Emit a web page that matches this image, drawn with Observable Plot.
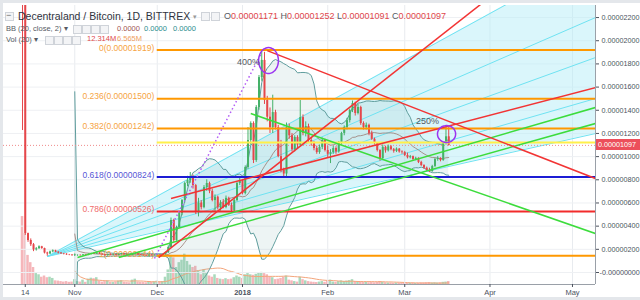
<!DOCTYPE html>
<html><head><meta charset="utf-8">
<script src="https://cdn.jsdelivr.net/npm/d3@7"></script>
<script src="https://cdn.jsdelivr.net/npm/@observablehq/plot@0.6"></script>
<style>
html,body{margin:0;padding:0;background:#fff;}
#wrap{position:relative;width:640px;height:300px;overflow:hidden;background:#e4e7eb;font-family:"Liberation Sans",Arial,sans-serif;}
#panel{position:absolute;left:3px;top:3px;width:637px;height:294px;background:#fff;}
#wrap svg{position:absolute;left:0;top:0;}
.t{position:absolute;white-space:nowrap;line-height:1;}
.ic{position:absolute;width:7px;height:7px;border:1px solid #cfd3d9;background:#f3f4f6;}
</style></head>
<body><div id="wrap"><div id="panel"></div></div>
<script>
// ---------- data (prices in satoshi = 1e-8 BTC) ----------
const START_DATE = "2017-10-13";
const ohlc = [
// Oct 13 - Oct 31
[3500,5000,1225,3000],[3000,3100,320,336],[336,340,260,276],[276,290,225,240],[240,250,180,195],[195,215,185,205],[205,230,200,222],[222,226,200,207],[207,210,160,168],[168,175,140,160],[160,185,155,178],[178,195,170,188],[188,192,170,175],[175,180,160,168],[168,172,155,162],[162,166,152,158],[158,162,148,152],[152,156,145,150],[150,155,140,146],
// Nov
[146,160,138,152],[146,152,140,148],[148,152,142,145],[145,156,143,152],[152,156,144,147],[147,160,145,157],[157,166,152,162],[162,170,155,158],[158,172,156,168],[168,172,155,158],[158,162,148,152],[152,155,140,145],[145,158,143,155],[155,160,148,150],[150,156,146,153],[153,155,144,147],[147,158,145,156],[156,164,152,160],[160,164,150,154],[154,158,146,149],[149,153,142,146],[146,160,145,158],[158,166,154,162],[162,165,150,152],[152,156,145,148],[148,152,142,146],[146,150,140,143],[143,152,141,150],[150,154,142,145],[145,152,143,150],
// Dec
[150,156,144,152],[152,155,145,147],[147,156,145,154],[154,175,150,170],[170,230,165,216],[216,470,210,449],[449,460,260,276],[276,400,270,388],[388,520,380,509],[509,630,490,621],[621,780,600,768],[768,830,740,794],[794,863,770,820],[820,840,720,750],[750,760,500,520],[520,640,480,600],[600,620,540,560],[560,750,550,733],[733,800,700,768],[768,780,680,700],[700,720,610,621],[621,670,520,650],[650,660,540,560],[560,620,530,600],[600,630,550,561],[561,660,550,640],[640,650,570,580],[580,600,510,535],[535,640,525,621],[621,780,610,768],[768,820,750,794],
// Jan
[794,800,670,682],[682,920,670,906],[906,1251,890,1139],[1139,1300,1100,1286],[1286,1300,940,966],[966,1440,950,1424],[1424,1700,1400,1682],[1682,1919,1650,1830],[1830,1900,1450,1484],[1484,1520,1300,1340],[1340,1420,1200,1250],[1250,1530,1200,1380],[1380,1400,1230,1250],[1250,1270,990,1000],[1000,1140,860,880],[880,900,820,850],[850,1290,820,1250],[1250,1280,1150,1180],[1180,1200,1040,1060],[1060,1180,1040,1165],[1165,1180,1070,1100],[1100,1484,1090,1337],[1337,1360,1180,1200],[1200,1300,1170,1260],[1260,1280,1120,1139],[1139,1160,1090,1113],[1113,1130,1050,1070],[1070,1090,1020,1035],[1035,1100,1020,1080],[1080,1160,1060,1139],[1139,1150,1040,1053],
// Feb
[1053,1090,990,1020],[1020,1060,940,1035],[1035,1090,1020,1070],[1070,1085,1020,1040],[1040,1130,1030,1113],[1113,1210,1100,1200],[1200,1265,1180,1251],[1251,1330,1230,1311],[1311,1410,1290,1398],[1398,1480,1380,1458],[1458,1470,1350,1372],[1372,1450,1360,1424],[1424,1435,1270,1286],[1286,1300,1230,1251],[1251,1290,1230,1270],[1270,1280,1180,1200],[1200,1220,1140,1150],[1150,1160,1100,1113],[1113,1120,1040,1053],[1053,1060,960,983],[983,1100,975,1080],[1080,1090,1030,1050],[1050,1100,1040,1085],[1085,1095,1050,1060],[1060,1070,1030,1045],[1045,1075,1035,1065],[1065,1070,1030,1040],[1040,1050,1020,1035],
// Mar 1 - 17
[1035,1045,1000,1010],[1010,1030,980,990],[990,1010,980,1000],[1000,1005,965,975],[975,995,965,985],[985,990,940,950],[950,960,915,923],[923,930,890,900],[900,910,870,880],[880,900,862,871],[871,925,865,915],[915,985,905,975],[975,1000,960,985],[985,990,955,966],[966,1120,960,1113],[1113,1250,1100,1171],[1171,1252,1091,1097]
];
// volume, millions of MANA
const volumeM = [
280,210,120,90,70,45,40,30,35,28,30,25,15,14,12,10,12,9,10,
20,12,10,18,9,22,26,24,28,14,10,12,15,9,8,10,14,16,9,8,7,18,22,10,9,8,7,12,9,11,
14,10,12,30,60,120,110,70,90,100,125,95,80,70,75,55,40,60,45,35,30,40,25,22,20,24,20,22,28,35,30,
25,40,45,40,38,42,48,50,45,40,30,28,20,22,25,30,35,18,15,12,10,30,20,15,12,10,9,8,10,12,9,
14,18,10,9,12,15,12,14,16,20,12,11,10,8,9,7,8,7,8,12,9,7,6,6,5,6,5,5,
5,6,5,5,4,5,6,6,7,8,6,7,6,7,9,10,12.314
];
const yTickValues = [0,200,400,600,800,1000,1200,1400,1600,1800,2000,2200];
const yTickLabels = ["-0.00000000","0.00000200","0.00000400","0.00000600","0.00000800","0.00001000","0.00001200","0.00001400","0.00001600","0.00001800","0.00002000","0.00002200"];
const xTickDates = ["2017-10-14","2017-11-01","2017-12-01","2018-01-01","2018-02-01","2018-03-01","2018-04-01","2018-05-01"];
const xTickLabels = ["14","Nov","Dec","2018","Feb","Mar","Apr","May"];
const fibRatios = ["0","0.236","0.382","0.618","0.786","1"];
const fibPrices = [1919,1500,1242,824,526,144];
const fibStartDate = "2017-12-01";
const yellowLevel = 1122;
const fanOrigin = ["2017-10-22", 138];
const fanEndPrices = [2735, 2200, 1855, 1501, 1199];
const redTrendLines = [["2017-12-01T12:00",129,"2018-03-29",2321],["2017-12-06",638,"2018-05-09T09:00",1596],["2018-01-10",1915,"2018-05-09T09:00",811]];
const greenTrendLines = [["2018-01-04",1372,"2018-05-09T09:00",336],["2017-11-02",129,"2018-05-09T09:00",1424],["2017-11-17",129,"2018-05-09T09:00",1286]];
const measureLine = ["2017-11-30",121,"2018-01-08",1898];
const circleMarks = [["2018-01-10T11:00",1829,3.6,112],["2018-03-16T05:00",1195,3.3,73]];
const notes = [["2018-01-03T04:00",1812,"400%"],["2018-03-09T07:00",1303,"250%"]];
const titleText = "Decentraland / Bitcoin, 1D, BITTREX";
const bbLabel = "BB (20, close, 2)";
const bbValues = ["0.0000","0.0000","0.0000"];
const volLabel = "Vol (20)";
const volValues = ["12.314M","6.565M"];

// ---------- helpers ----------
const parse = s => new Date(s.length === 10 ? s + "T00:00Z" : s + "Z");
const fmt = v => (v / 1e8).toFixed(8);
const RIGHT = "2018-05-09T09:00";
const xDomain = [parse("2017-10-06T02:00"), parse(RIGHT)];
const yDomain = [-103.5, 2304];
const W = 640, H = 300, MT = 5, MR = 45, MB = 16, ML = 3;
const UP = "#45b168", DOWN = "#e5474b";

const t0 = parse(START_DATE);
const bars = ohlc.map((c, i) => ({date: d3.utcDay.offset(t0, i), o: c[0], h: c[1], l: c[2], c: c[3], v: volumeM[i]}));
const bb = [], volMA = [];
for (let i = 19; i < bars.length; i++) {
  const w = bars.slice(i - 19, i + 1);
  const cl = w.map(b => b.c);
  const m = d3.mean(cl);
  const sd = Math.sqrt(d3.mean(cl, x => (x - m) ** 2));
  bb.push({date: bars[i].date, mid: m, up: m + 2 * sd, lo: m - 2 * sd});
  volMA.push({date: bars[i].date, v: d3.mean(w, b => b.v)});
}
const last = bars[bars.length - 1];
const yLab = new Map(yTickValues.map((v, i) => [v, yTickLabels[i]]));
const xLab = new Map(xTickDates.map((d, i) => [+parse(d), xTickLabels[i]]));
const xTicks = xTickDates.map(parse);
const toLink = a => ({x1: parse(a[0]), y1: a[1], x2: parse(a[2]), y2: a[3]});
const fanLinks = fanEndPrices.map(p => toLink([fanOrigin[0], fanOrigin[1], RIGHT, p]));
const fanFill = [{x: parse(fanOrigin[0]), lo: fanOrigin[1], hi: fanOrigin[1]}, {x: parse(RIGHT), lo: fanEndPrices[fanEndPrices.length - 1], hi: fanEndPrices[0]}];
const ellipsePts = circleMarks.flatMap(([d, p, rx, ry], k) => d3.range(0, 41).map(j => {
  const a = 2 * Math.PI * j / 40;
  return {id: k, x: new Date(parse(d).getTime() + rx * 864e5 * Math.cos(a)), y: p + ry * Math.sin(a)};
}));
const fibLineColors = ["#ff9800","#ff9800","#ff9800","#1c1cd4","#f22b2b","#ff9800"];
const fibTextColors = ["#f6a443","#f6a443","#f6a443","#5656d6","#ef6a6a","#f6a443"];
const fibRows = fibPrices.map((p, i) => ({p, stroke: fibLineColors[i], fill: fibTextColors[i], label: `${fibRatios[i]}(${fmt(p)})`}));

const common = {width: W, height: H, marginTop: MT, marginRight: MR, marginBottom: MB, marginLeft: ML,
  x: {type: "utc", domain: xDomain}, color: {type: "identity"}};

// ---------- volume layer ----------
const volPlot = Plot.plot({...common, y: {domain: [0, 1150], axis: null}, x: {type: "utc", domain: xDomain, axis: null},
  style: {background: "transparent", overflow: "visible"},
  marks: [
    Plot.rectY(bars, {x1: d => d3.utcHour.offset(d.date, -11), x2: d => d3.utcHour.offset(d.date, 11), y: "v",
      fill: d => d.c >= d.o ? "#a9d9bc" : "#f5b6ba", clip: true}),
    Plot.line(volMA, {x: "date", y: "v", stroke: "#f4a57b", strokeWidth: 1})
  ]});

// ---------- main layer ----------
const main = Plot.plot({...common, y: {domain: yDomain},
  style: {background: "transparent", overflow: "visible", fontFamily: "Liberation Sans, Arial, sans-serif", fontSize: "7.2px", color: "#4c525e"},
  marks: [
    Plot.gridX(xTicks, {stroke: "#e8ebef", strokeOpacity: 1}),
    Plot.gridY(yTickValues, {stroke: "#eef0f3", strokeOpacity: 1}),
    Plot.areaY(fanFill, {x: "x", y1: "lo", y2: "hi", fill: "#b5eef7", fillOpacity: 0.5, clip: true}),
    Plot.areaY(bb, {x: "date", y1: "lo", y2: "up", fill: "#7fb0b0", fillOpacity: 0.14, clip: true}),
    Plot.link(fanLinks, {x1: "x1", y1: "y1", x2: "x2", y2: "y2", stroke: "#6fe3f2", strokeWidth: 1, clip: true}),
    Plot.line(bb, {x: "date", y: "up", stroke: "#5f9d9d", strokeWidth: 1, clip: true}),
    Plot.line(bb, {x: "date", y: "lo", stroke: "#5f9d9d", strokeWidth: 1, clip: true}),
    Plot.line(bb, {x: "date", y: "mid", stroke: "#9b7a72", strokeWidth: 1, strokeOpacity: 0.8, clip: true}),
    Plot.ruleY([last.c], {stroke: "#f08a8a", strokeDasharray: "1,2"}),
    Plot.text(fibRows, {x: () => parse(fibStartDate), y: "p", text: "label", fill: "fill", textAnchor: "end", dx: -3, dy: -2, fontSize: 8.5}),
    Plot.ruleX(bars, {x: "date", y1: "l", y2: "h", stroke: d => d.c >= d.o ? UP : DOWN, strokeWidth: 1, clip: true}),
    Plot.ruleX(bars, {x: "date", y1: "o", y2: d => d.c === d.o ? d.o + 4 : d.c, stroke: d => d.c >= d.o ? UP : DOWN, strokeWidth: 2, clip: true}),
    Plot.ruleY(fibRows, {y: "p", x1: () => parse(fibStartDate), x2: () => parse(RIGHT), stroke: "stroke", strokeWidth: 2}),
    Plot.ruleY([yellowLevel], {x1: () => parse(fibStartDate), x2: () => parse(RIGHT), stroke: "#fff04a", strokeWidth: 2}),
    Plot.link(greenTrendLines.map(toLink), {x1: "x1", y1: "y1", x2: "x2", y2: "y2", stroke: "#3cdc3c", strokeWidth: 1.5, clip: true}),
    Plot.link(redTrendLines.map(toLink), {x1: "x1", y1: "y1", x2: "x2", y2: "y2", stroke: "#f23434", strokeWidth: 1.5, clip: true}),
    Plot.link([toLink(measureLine)], {x1: "x1", y1: "y1", x2: "x2", y2: "y2", stroke: "#b25cf5", strokeWidth: 1.5, strokeDasharray: "1.5,2.5", clip: true}),
    Plot.line(ellipsePts, {x: "x", y: "y", z: "id", stroke: "#9b35f0", strokeWidth: 1.5, curve: "catmull-rom"}),
    Plot.text(notes, {x: d => parse(d[0]), y: d => d[1], text: d => d[2], fill: "#555a63", fontSize: 9}),
    Plot.ruleX([xDomain[1]], {stroke: "#9aa0a8"}),
    Plot.ruleY([yDomain[0]], {stroke: "#9aa0a8"}),
    Plot.axisY(yTickValues.filter(v => v !== 0), {anchor: "right", tickSize: 3, tickPadding: 3, tickFormat: d => yLab.get(d), label: null}),
    Plot.axisY([0], {anchor: "right", tickSize: 3, tickPadding: 1, tickFormat: d => yLab.get(d), label: null}),
    Plot.axisX(xTicks.filter(d => xLab.get(+d) !== "2018"), {anchor: "bottom", tickSize: 3, tickPadding: 2, tickFormat: d => xLab.get(+d), label: null, fontSize: 7.5}),
    Plot.axisX(xTicks.filter(d => xLab.get(+d) === "2018"), {anchor: "bottom", tickSize: 3, tickPadding: 2, tickFormat: d => xLab.get(+d), label: null, fontWeight: "bold", fontSize: 7.5})
  ]});

const wrap = document.getElementById("wrap");
wrap.appendChild(volPlot);
wrap.appendChild(main);

// ---------- overlay texts ----------
function addText(txt, left, top, size, color, extra) {
  const d = document.createElement("div");
  d.className = "t"; d.textContent = txt;
  d.style.left = left + "px"; d.style.top = top + "px"; d.style.fontSize = size + "px"; d.style.color = color;
  if (extra) Object.assign(d.style, extra);
  wrap.appendChild(d); return d;
}
function addIcon(left, top) {
  const d = document.createElement("div"); d.className = "ic";
  d.style.left = left + "px"; d.style.top = top + "px"; wrap.appendChild(d);
}
addIcon(5, 12);
addText("−", 6, 11, 9, "#666");
const title = addText(titleText, 18, 11, 10.5, "#2f3340");
const tEnd = 18 + title.getBoundingClientRect().width;
addText("▾", tEnd + 3, 13, 7, "#999");
addIcon(tEnd + 11, 12); addIcon(tEnd + 21, 12);
const red = "#e0474c";
const ohlcParts = [["O", last.o], ["H", last.h], ["L", last.l], ["C", last.c]];
let ox = 224;
ohlcParts.forEach(([k, v]) => {
  const a = addText(k, ox, 12, 9, "#555a63");
  ox += a.getBoundingClientRect().width;
  const b = addText(fmt(v), ox, 12, 9, red);
  ox += b.getBoundingClientRect().width + 2.5;
});
addText(bbLabel + " ▾", 6, 25, 7.5, "#555a63");
[73, 82, 91, 100].forEach(x => addIcon(x, 25));
addText(bbValues[0], 117, 25, 7.5, "#a0524f");
addText(bbValues[1], 144, 25, 7.5, "#2b8c8c");
addText(bbValues[2], 173, 25, 7.5, "#2b8c8c");
addText(volLabel + " ▾", 6, 36, 7.5, "#555a63");
[45, 54, 63, 72].forEach(x => addIcon(x, 36));
addText(volValues[0], 87, 35, 7.5, red);
addText(volValues[1], 117, 35, 7.5, "#f0a060");

// current price label on the right axis
const py = main.scale("y").apply(last.c);
addText(fmt(last.c), 596, py - 6, 7.2, "#fff", {background: "#ec4f5b", padding: "2px 2px", width: "40px"});
</script></body></html>
